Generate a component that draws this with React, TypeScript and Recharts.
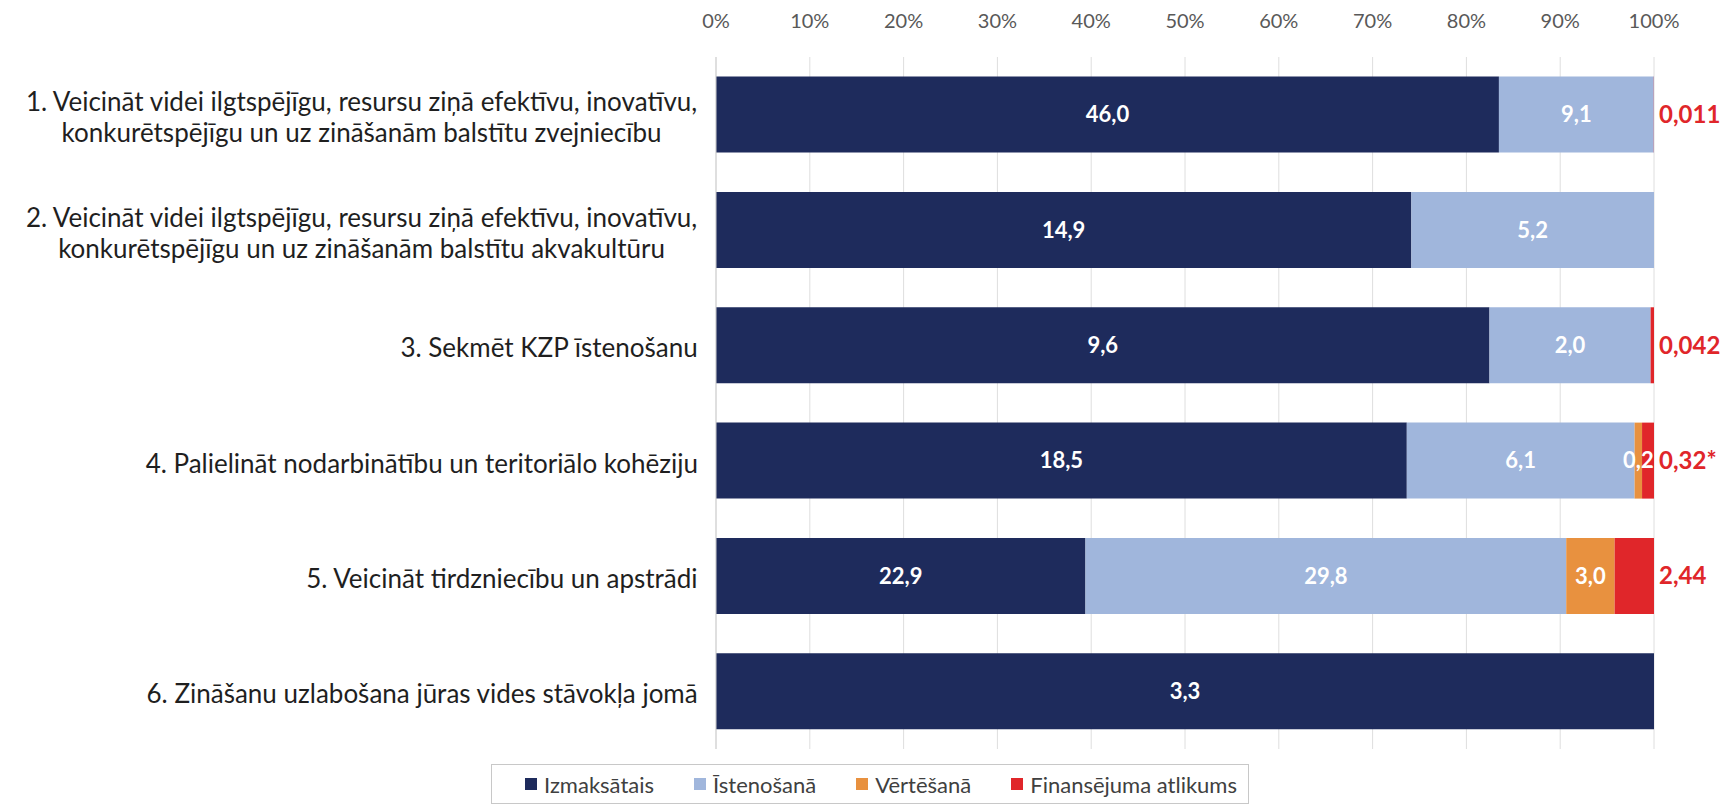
import { BarChart, Bar, XAxis, YAxis, CartesianGrid, Legend, LabelList } from "recharts";

const categories = [
  "1. Veicināt videi ilgtspējīgu, resursu ziņā efektīvu, inovatīvu,\nkonkurētspējīgu un uz zināšanām balstītu zvejniecību",
  "2. Veicināt videi ilgtspējīgu, resursu ziņā efektīvu, inovatīvu,\nkonkurētspējīgu un uz zināšanām balstītu akvakultūru",
  "3. Sekmēt KZP īstenošanu",
  "4. Palielināt nodarbinātību un teritoriālo kohēziju",
  "5. Veicināt tirdzniecību un apstrādi",
  "6. Zināšanu uzlabošana jūras vides stāvokļa jomā",
];

const paid = [46.0, 14.9, 9.6, 18.5, 22.9, 3.3];
const implementing = [9.1, 5.2, 2.0, 6.1, 29.8, 0];
const evaluating = [0, 0, 0, 0.2, 3.0, 0];
const remaining = [0.011, 0, 0.042, 0.32, 2.44, 0];
const remainingLabels = ["0,011", "", "0,042", "0,32*", "2,44", ""];

const xTicks = [0, 0.1, 0.2, 0.3, 0.4, 0.5, 0.6, 0.7, 0.8, 0.9, 1];

const seriesNames = ["Izmaksātais", "Īstenošanā", "Vērtēšanā", "Finansējuma atlikums"];
const colors = ["#1e2b5c", "#a0b6dc", "#e8913f", "#e0262a"];

const data = categories.map((name, i) => ({
  name,
  paid: paid[i],
  implementing: implementing[i],
  evaluating: evaluating[i],
  remaining: remaining[i],
  remainingLabel: remainingLabels[i],
}));

const FONT = "Lato, 'Open Sans', sans-serif";

let ctx: CanvasRenderingContext2D | null = null;
function measure(text: string, font: string) {
  if (!ctx) ctx = document.createElement("canvas").getContext("2d");
  if (!ctx) return text.length * 12;
  ctx.font = font;
  return ctx.measureText(text).width;
}

function CategoryTick(props: any) {
  const { x, y, payload } = props;
  const lines: string[] = String(payload.value).split("\n");
  const font = `26px ${FONT}`;
  const w = Math.max(...lines.map((l) => measure(l, font)));
  const cx = x - w / 2;
  const lh = 31;
  const y0 = y + 3 - ((lines.length - 1) * lh) / 2;
  return (
    <text fill="#1f1f1f" fontSize={26} fontFamily={FONT} textAnchor="middle">
      {lines.map((l, i) => (
        <tspan key={i} x={cx} y={y0 + i * lh} dy="0.35em">
          {l}
        </tspan>
      ))}
    </text>
  );
}

function fmt(v: number) {
  return v.toFixed(1).replace(".", ",");
}

function InsideLabel(props: any) {
  const { x, y, width, height, value } = props;
  if (!value) return null;
  return (
    <text
      x={x + width / 2}
      y={y + height / 2}
      dy="0.35em"
      textAnchor="middle"
      fill="#ffffff"
      fontSize={22}
      fontWeight="bold"
      fontFamily={FONT}
    >
      {fmt(value)}
    </text>
  );
}

function OutsideLabel(props: any) {
  const { x, y, width, height, value } = props;
  if (!value) return null;
  return (
    <text
      x={x + width + 5}
      y={y + height / 2}
      dy="0.35em"
      textAnchor="start"
      fill="#e0262a"
      fontSize={24}
      fontWeight="bold"
      fontFamily={FONT}
    >
      {value}
    </text>
  );
}

function LegendBox() {
  return (
    <div
      style={{
        boxSizing: "border-box",
        width: 758,
        height: 40,
        border: "1px solid #c8c8c8",
        display: "flex",
        alignItems: "center",
        justifyContent: "flex-start",
        paddingLeft: 33,
        gap: 40,
        fontFamily: FONT,
        fontSize: 22,
        color: "#404040",
        background: "#fff",
      }}
    >
      {seriesNames.map((n, i) => (
        <span key={n} style={{ display: "flex", alignItems: "center" }}>
          <span style={{ width: 12, height: 12, background: colors[i], marginRight: 7, display: "inline-block" }} />
          {n}
        </span>
      ))}
    </div>
  );
}

export default function App() {
  return (
    <div style={{ position: "fixed", top: 0, left: 0, background: "#fff" }}>
      <BarChart
        width={1727}
        height={806}
        data={data}
        layout="vertical"
        stackOffset="expand"
        barCategoryGap="17%"
        margin={{ top: 5, right: 73, bottom: 57, left: 0 }}
      >
        <CartesianGrid horizontal={false} vertical stroke="#dedede" />
        <XAxis
          type="number"
          orientation="top"
          domain={[0, 1]}
          ticks={xTicks}
          tickFormatter={(v: number) => `${Math.round(v * 100)}%`}
          axisLine={false}
          tickLine={false}
          tickSize={0}
          tickMargin={29}
          height={52}
          interval={0}
          tick={{ fill: "#595959", fontSize: 20, fontFamily: FONT }}
        />
        <YAxis
          type="category"
          dataKey="name"
          width={716}
          axisLine={{ stroke: "#cfcfcf" }}
          tickLine={false}
          tickSize={0}
          tickMargin={18}
          interval={0}
          tick={<CategoryTick />}
        />
        <Legend
          layout="horizontal"
          verticalAlign="middle"
          content={() => <LegendBox />}
          wrapperStyle={{ top: 764, left: 491, width: 758 }}
        />
        <Bar dataKey="paid" name={seriesNames[0]} stackId="a" fill={colors[0]} isAnimationActive={false}>
          <LabelList dataKey="paid" content={<InsideLabel />} />
        </Bar>
        <Bar dataKey="implementing" name={seriesNames[1]} stackId="a" fill={colors[1]} isAnimationActive={false}>
          <LabelList dataKey="implementing" content={<InsideLabel />} />
        </Bar>
        <Bar dataKey="evaluating" name={seriesNames[2]} stackId="a" fill={colors[2]} isAnimationActive={false}>
          <LabelList dataKey="evaluating" content={<InsideLabel />} />
        </Bar>
        <Bar dataKey="remaining" name={seriesNames[3]} stackId="a" fill={colors[3]} isAnimationActive={false}>
          <LabelList dataKey="remainingLabel" content={<OutsideLabel />} />
        </Bar>
      </BarChart>
    </div>
  );
}
